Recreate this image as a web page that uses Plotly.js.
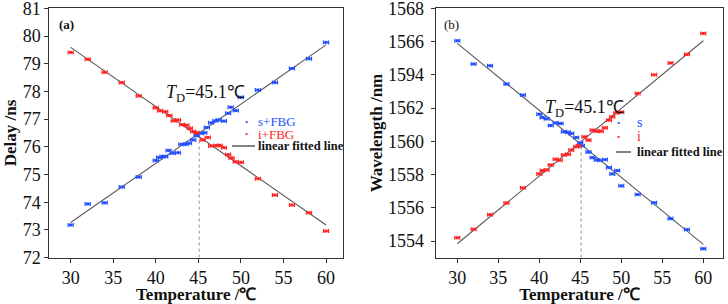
<!DOCTYPE html>
<html><head><meta charset="utf-8">
<script src="https://cdn.plot.ly/plotly-3.0.1.min.js"></script>
<style>html,body{margin:0;padding:0;background:#fff}#c{width:728px;height:304px}</style>
</head><body><div id="c"></div>
<script>
// ---------- data (a) delay ----------
const tempA = [30,32,34,36,38,40,40.4,40.8,41.1,41.5,42,42.6,43,43.5,43.9,44.4,44.8,45.3,45.7,46,46.5,47,47.4,48,48.5,48.8,49.4,50,52,54,56,58,60];
const delayS = [73.18,73.94,73.98,74.55,74.91,75.51,75.62,75.65,75.65,75.87,75.77,75.79,76.09,76.09,76.13,76.25,76.40,76.49,76.51,76.70,76.87,76.94,76.97,76.93,77.21,77.43,77.31,77.79,78.05,78.32,78.83,79.18,79.77];
const tempAi = [30,32,34,36,38,40,40.5,41.1,41.6,42.1,42.6,43.1,43.6,44,44.4,44.8,45.5,46.1,46.5,47.1,47.5,48,48.5,48.9,49.4,50,52,54,56,58,60];
const delayI = [79.41,79.16,78.69,78.32,77.84,77.41,77.30,77.27,77.13,76.94,76.97,76.80,76.78,76.67,76.55,76.51,76.25,76.34,76.03,76.05,76.05,75.97,75.72,75.60,75.46,75.44,74.85,74.26,73.90,73.62,72.96];
// ---------- data (b) wavelength ----------
const tempB = [30,32,34,36,38,40,40.4,40.9,41.4,42,42.6,43,43.5,43.9,44.5,45,45.2,46,46.5,47,47.4,48,48.5,48.9,49.5,50,52,54,56,58,60];
const waveS = [1566.05,1564.65,1564.55,1563.44,1562.78,1561.63,1561.43,1561.35,1560.95,1561.11,1561.07,1560.57,1560.55,1560.47,1560.23,1559.91,1559.73,1559.35,1559.02,1558.88,1558.86,1558.90,1558.42,1558.04,1558.24,1557.32,1556.80,1556.31,1555.35,1554.69,1553.54];
const tempBi = [30,32,34,36,38,40,40.4,40.9,41.4,42,42.5,43,43.5,43.9,44.5,44.8,45.5,46,46.5,47,47.5,48,48.5,48.9,49.4,50,52,54,56,58,60];
const waveI = [1554.20,1554.71,1555.59,1556.29,1557.20,1558.04,1558.24,1558.28,1558.58,1558.92,1558.86,1559.18,1559.22,1559.47,1559.67,1559.73,1560.27,1560.07,1560.67,1560.61,1560.61,1560.81,1561.27,1561.47,1561.71,1561.75,1562.88,1564.00,1564.71,1565.23,1566.49];
// ---------- fitted lines (end points) ----------
const fitT = [30,60];
const fitDelayS = [73.27,79.68];
const fitDelayI = [79.59,73.18];
const fitWaveS = [1565.89,1553.80];
const fitWaveI = [1553.84,1566.05];
// ---------- crossing ----------
const TD = 45.1;
const crossDelay = [72, 76.46];
const crossWave = [1553, 1559.83];
// ---------- ticks ----------
const xTicks = [30,35,40,45,50,55,60];
const yTicksA = [72,73,74,75,76,77,78,79,80,81];
const yTicksB = [1554,1556,1558,1560,1562,1564,1566,1568];
const yTickTextB = ['1554','1556','1558','1560','1562','1594','1566','1568'];

const BLUE = '#2150ff', RED = '#ff2323', FIT = '#5a5a5a';
const SERIF = 'Liberation Serif';

function pts(x, y, color, xa, ya) {
  return {x, y, xaxis: xa, yaxis: ya, type: 'scatter', mode: 'markers',
    marker: {color, size: 3, symbol: 'square'},
    error_x: {type: 'constant', value: 0.3, color, thickness: 1.2, width: 2},
    showlegend: false, hoverinfo: 'skip', cliponaxis: false};
}
function line(x, y, xa, ya) {
  return {x, y, xaxis: xa, yaxis: ya, type: 'scatter', mode: 'lines',
    line: {color: FIT, width: 1.1}, showlegend: false, hoverinfo: 'skip'};
}
function vline(y, xa, ya) {
  return {x: [TD, TD], y, xaxis: xa, yaxis: ya, type: 'scatter', mode: 'lines',
    line: {color: '#777', width: 0.8, dash: 'dot'}, showlegend: false, hoverinfo: 'skip'};
}

const data = [
  line(fitT, fitDelayS, 'x', 'y'), line(fitT, fitDelayI, 'x', 'y'), vline(crossDelay, 'x', 'y'),
  pts(tempA, delayS, BLUE, 'x', 'y'), pts(tempAi, delayI, RED, 'x', 'y'),
  line(fitT, fitWaveS, 'x2', 'y2'), line(fitT, fitWaveI, 'x2', 'y2'), vline(crossWave, 'x2', 'y2'),
  pts(tempB, waveS, BLUE, 'x2', 'y2'), pts(tempBi, waveI, RED, 'x2', 'y2')
];

const W = 728, H = 304;
const px = v => v / W, py = v => 1 - v / H;

const axBase = {
  showline: true, mirror: true, linecolor: '#333', linewidth: 1,
  ticks: 'outside', ticklen: 4, tickcolor: '#333', showgrid: false, zeroline: false,
  ticklabeloverflow: 'allow',
  tickfont: {family: SERIF, size: 18, color: '#111'},
};
const titleFont = {family: SERIF, size: 17, color: '#111', weight: 'bold'};

const layout = {
  width: W, height: H, margin: {l: 0, r: 0, t: 0, b: 0},
  paper_bgcolor: '#fff', plot_bgcolor: '#fff', showlegend: false,
  font: {family: SERIF},
  xaxis: Object.assign({}, axBase, {domain: [px(49.3), px(343.3)], range: [27.49, 62.03], tickvals: xTicks, anchor: 'y',
    title: {text: 'Temperature /℃', font: titleFont, standoff: 4}}),
  yaxis: Object.assign({}, axBase, {domain: [py(257.7), py(8.3)], range: [71.999, 81.001], tickvals: yTicksA, anchor: 'x',
    title: {text: 'Delay /ns', font: titleFont, standoff: 1}}),
  xaxis2: Object.assign({}, axBase, {domain: [px(435.7), px(723.3)], range: [27.37, 62.44], tickvals: xTicks, anchor: 'y2',
    title: {text: 'Temperature /℃', font: titleFont, standoff: 4}}),
  yaxis2: Object.assign({}, axBase, {domain: [py(257.7), py(8.3)], range: [1552.999, 1568.001], tickvals: yTicksB, ticktext: yTickTextB, anchor: 'x2',
    ticklabelstandoff: 3,
    title: {text: 'Wavelength /nm', font: titleFont, standoff: 1}}),
  annotations: [
    {xref: 'paper', yref: 'paper', x: px(57), y: py(24), xanchor: 'left', yanchor: 'middle', showarrow: false,
      text: '<b>(a)</b>', font: {family: SERIF, size: 13, color: '#111'}},
    {xref: 'paper', yref: 'paper', x: px(442), y: py(24), xanchor: 'left', yanchor: 'middle', showarrow: false,
      text: '(b)', font: {family: SERIF, size: 13, color: '#111'}},
    {xref: 'x', yref: 'y', x: 41.0, y: 77.93, xanchor: 'left', yanchor: 'middle', showarrow: false,
      text: '<i>T</i><sub>D</sub>=45.1℃', font: {family: SERIF, size: 18, color: '#111'}},
    {xref: 'x2', yref: 'y2', x: 40.5, y: 1561.98, xanchor: 'left', yanchor: 'middle', showarrow: false,
      text: '<i>T</i><sub>D</sub>=45.1℃', font: {family: SERIF, size: 18, color: '#111'}},
    // legend (a)
    {xref: 'paper', yref: 'paper', x: px(246), y: py(121.7), showarrow: false, text: '•', font: {size: 9, color: BLUE}},
    {xref: 'paper', yref: 'paper', x: px(246), y: py(134), showarrow: false, text: '•', font: {size: 9, color: RED}},
    {xref: 'paper', yref: 'paper', x: px(256), y: py(121.7), xanchor: 'left', yanchor: 'middle', showarrow: false, text: 's+FBG', font: {family: SERIF, size: 13, color: BLUE}},
    {xref: 'paper', yref: 'paper', x: px(256), y: py(134), xanchor: 'left', yanchor: 'middle', showarrow: false, text: 'i+FBG', font: {family: SERIF, size: 13, color: RED}},
    {xref: 'paper', yref: 'paper', x: px(256), y: py(146), xanchor: 'left', yanchor: 'middle', showarrow: false, text: '<b>linear fitted line</b>', font: {family: SERIF, size: 12.5, color: '#111'}},
    // legend (b)
    {xref: 'paper', yref: 'paper', x: px(622), y: py(123), showarrow: false, text: '•', font: {size: 9, color: BLUE}},
    {xref: 'paper', yref: 'paper', x: px(622), y: py(137), showarrow: false, text: '•', font: {size: 9, color: RED}},
    {xref: 'paper', yref: 'paper', x: px(635), y: py(123), xanchor: 'left', yanchor: 'middle', showarrow: false, text: 's', font: {family: SERIF, size: 14, color: BLUE}},
    {xref: 'paper', yref: 'paper', x: px(635), y: py(137), xanchor: 'left', yanchor: 'middle', showarrow: false, text: 'i', font: {family: SERIF, size: 14, color: RED}},
    {xref: 'paper', yref: 'paper', x: px(635), y: py(152), xanchor: 'left', yanchor: 'middle', showarrow: false, text: '<b>linear fitted line</b>', font: {family: SERIF, size: 12.5, color: '#111'}}
  ],
  shapes: [
    {type: 'line', xref: 'paper', yref: 'paper', x0: px(232), x1: px(255), y0: py(146), y1: py(146), line: {color: FIT, width: 1.5}},
    {type: 'line', xref: 'paper', yref: 'paper', x0: px(616), x1: px(631), y0: py(152), y1: py(152), line: {color: FIT, width: 1.5}}
  ]
};

Plotly.newPlot('c', data, layout, {staticPlot: true, displayModeBar: false});
</script></body></html>
